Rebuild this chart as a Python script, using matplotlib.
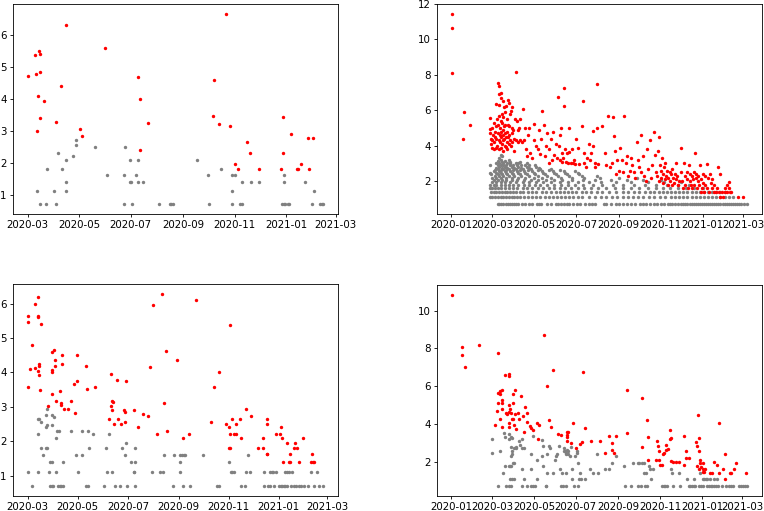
import numpy as np
import matplotlib
matplotlib.use("Agg")
import matplotlib.pyplot as plt
import matplotlib.dates as mdates

# ---- top left panel (dates, log values) ----
tl_red = [("2020-03-01", 4.72), ("2020-03-09", 5.38), ("2020-03-11", 4.78), ("2020-03-14", 5.52),
          ("2020-03-16", 5.41), ("2020-03-15", 4.86), ("2020-03-13", 4.09), ("2020-03-12", 3.00),
          ("2020-03-16", 3.40), ("2020-03-20", 3.94), ("2020-04-03", 3.29), ("2020-04-09", 4.40),
          ("2020-04-15", 6.33), ("2020-05-02", 3.05), ("2020-05-04", 2.84), ("2020-06-01", 5.59),
          ("2020-07-10", 4.69), ("2020-07-12", 4.01), ("2020-07-12", 2.40), ("2020-07-21", 3.26),
          ("2020-10-06", 3.47), ("2020-10-08", 4.60), ("2020-10-14", 3.22), ("2020-10-22", 6.68),
          ("2020-10-26", 3.15), ("2020-11-02", 1.95), ("2020-11-05", 1.79), ("2020-11-16", 2.64),
          ("2020-11-19", 2.31), ("2020-11-30", 1.79), ("2020-12-26", 1.79), ("2020-12-28", 3.44),
          ("2020-12-28", 2.31), ("2021-01-07", 2.90), ("2021-01-14", 1.79), ("2021-01-15", 1.79),
          ("2021-01-19", 1.95), ("2021-01-27", 2.79), ("2021-01-28", 1.79), ("2021-02-02", 2.79)]

tl_gray = [("2020-03-12", 1.10), ("2020-03-15", 0.69), ("2020-03-23", 0.69), ("2020-03-24", 1.79),
           ("2020-04-01", 1.10), ("2020-04-03", 0.69), ("2020-04-06", 2.30), ("2020-04-11", 1.79),
           ("2020-04-15", 2.08), ("2020-04-15", 1.39), ("2020-04-15", 1.10), ("2020-04-23", 2.20),
           ("2020-04-27", 2.56), ("2020-04-27", 2.71), ("2020-05-20", 2.48), ("2020-06-03", 1.61),
           ("2020-06-23", 1.61), ("2020-06-23", 0.69), ("2020-06-24", 2.48), ("2020-06-30", 2.08),
           ("2020-06-30", 1.39), ("2020-07-01", 1.39), ("2020-07-02", 0.69), ("2020-07-07", 1.61),
           ("2020-07-09", 2.08), ("2020-07-10", 1.39), ("2020-07-15", 1.39), ("2020-08-04", 0.69),
           ("2020-08-17", 0.69), ("2020-08-18", 0.69), ("2020-08-20", 0.69), ("2020-09-18", 2.08),
           ("2020-09-30", 1.61), ("2020-10-02", 0.69), ("2020-10-16", 1.79), ("2020-10-29", 1.61),
           ("2020-11-01", 1.61), ("2020-10-29", 1.10), ("2020-10-29", 0.69), ("2020-11-08", 0.69),
           ("2020-11-10", 0.69), ("2020-11-10", 1.39), ("2020-11-20", 1.39), ("2020-11-30", 1.39),
           ("2020-12-27", 0.69), ("2020-12-29", 0.69), ("2020-12-31", 0.69), ("2020-12-29", 1.39),
           ("2020-12-29", 1.61), ("2021-01-03", 0.69), ("2021-01-05", 0.69), ("2021-01-23", 1.39),
           ("2021-02-01", 0.69), ("2021-02-03", 1.10), ("2021-02-10", 0.69), ("2021-02-12", 0.69),
           ("2021-02-14", 0.69)]

# ---- bottom left panel ----
bl_red = [("2020-03-01", 5.63), ("2020-03-01", 5.46), ("2020-03-01", 3.57), ("2020-03-04", 4.10),
          ("2020-03-06", 4.80), ("2020-03-10", 4.13), ("2020-03-10", 5.99), ("2020-03-13", 6.20),
          ("2020-03-14", 5.63), ("2020-03-14", 5.61), ("2020-03-13", 4.04), ("2020-03-15", 4.24),
          ("2020-03-15", 4.19), ("2020-03-15", 3.92), ("2020-03-16", 3.50), ("2020-03-17", 5.40),
          ("2020-03-26", 3.01), ("2020-03-30", 3.37), ("2020-03-30", 4.58), ("2020-04-02", 4.66),
          ("2020-03-30", 4.07), ("2020-03-31", 4.02), ("2020-04-03", 4.35), ("2020-04-03", 4.19),
          ("2020-04-05", 3.18), ("2020-04-09", 3.45), ("2020-04-10", 3.11), ("2020-04-11", 3.06),
          ("2020-04-12", 4.50), ("2020-04-12", 4.25), ("2020-04-14", 2.95), ("2020-04-19", 2.95),
          ("2020-04-23", 3.18), ("2020-04-26", 3.65), ("2020-04-28", 2.83), ("2020-04-30", 3.75),
          ("2020-04-30", 4.52), ("2020-05-11", 4.19), ("2020-05-12", 3.53), ("2020-05-22", 3.57),
          ("2020-06-08", 2.64), ("2020-06-10", 3.96), ("2020-06-11", 3.01), ("2020-06-12", 2.90),
          ("2020-06-12", 3.18), ("2020-06-13", 3.14), ("2020-06-14", 2.50), ("2020-06-18", 3.79),
          ("2020-06-19", 2.64), ("2020-06-23", 2.50), ("2020-06-26", 2.90), ("2020-06-28", 2.57),
          ("2020-06-28", 2.84), ("2020-06-29", 3.75), ("2020-07-09", 2.90), ("2020-07-13", 2.41),
          ("2020-07-20", 2.78), ("2020-07-26", 2.72), ("2020-07-28", 4.17), ("2020-08-01", 5.96),
          ("2020-08-05", 2.21), ("2020-08-11", 6.28), ("2020-08-14", 3.10), ("2020-08-17", 4.63),
          ("2020-08-18", 2.31), ("2020-08-30", 4.35), ("2020-09-06", 2.09), ("2020-09-14", 2.21),
          ("2020-09-22", 6.10), ("2020-10-10", 2.57), ("2020-10-14", 3.58), ("2020-10-20", 4.02),
          ("2020-10-29", 2.50), ("2020-11-01", 2.41), ("2020-11-03", 5.39), ("2020-11-01", 1.81),
          ("2020-11-03", 1.81), ("2020-11-02", 2.21), ("2020-11-05", 2.64), ("2020-11-07", 2.21),
          ("2020-11-10", 2.21), ("2020-11-10", 2.50), ("2020-11-14", 2.64), ("2020-11-16", 2.09),
          ("2020-11-22", 2.95), ("2020-11-28", 2.72), ("2020-12-06", 1.81), ("2020-12-13", 2.09),
          ("2020-12-13", 1.81), ("2020-12-17", 2.50), ("2020-12-18", 2.64), ("2020-12-17", 1.62),
          ("2020-12-18", 1.62), ("2020-12-29", 2.21), ("2021-01-02", 2.21), ("2021-01-04", 2.41),
          ("2021-01-05", 2.09), ("2021-01-06", 1.41), ("2021-01-11", 1.96), ("2021-01-13", 1.41),
          ("2021-01-14", 1.41), ("2021-01-14", 1.62), ("2021-01-19", 1.81), ("2021-01-21", 1.96),
          ("2021-01-23", 1.81), ("2021-01-25", 1.41), ("2021-01-30", 2.09), ("2021-02-10", 1.62),
          ("2021-02-09", 1.41), ("2021-02-11", 1.41), ("2021-02-13", 1.41)]

bl_gray = [("2020-03-01", 1.10), ("2020-03-06", 0.69), ("2020-03-13", 2.64), ("2020-03-15", 2.64),
           ("2020-03-14", 2.20), ("2020-03-14", 1.10), ("2020-03-17", 2.56), ("2020-03-17", 1.79),
           ("2020-03-19", 1.61), ("2020-03-23", 2.77), ("2020-03-24", 2.94), ("2020-03-23", 2.40),
           ("2020-03-23", 1.79), ("2020-03-25", 1.79), ("2020-03-25", 2.48), ("2020-03-27", 1.10),
           ("2020-03-28", 0.69), ("2020-03-30", 0.69), ("2020-04-01", 0.69), ("2020-03-28", 1.39),
           ("2020-03-31", 1.39), ("2020-03-31", 2.48), ("2020-03-31", 2.77), ("2020-04-02", 2.71),
           ("2020-04-04", 1.10), ("2020-04-04", 2.08), ("2020-04-06", 2.30), ("2020-04-08", 2.30),
           ("2020-04-07", 0.69), ("2020-04-09", 0.69), ("2020-04-11", 0.69), ("2020-04-13", 0.69),
           ("2020-04-13", 1.39), ("2020-04-23", 2.30), ("2020-04-29", 1.61), ("2020-05-01", 1.10),
           ("2020-05-06", 2.30), ("2020-05-06", 1.61), ("2020-05-11", 0.69), ("2020-05-13", 0.69),
           ("2020-05-13", 2.30), ("2020-05-15", 1.79), ("2020-05-20", 2.20), ("2020-06-02", 0.69),
           ("2020-06-04", 1.79), ("2020-06-05", 1.10), ("2020-06-08", 2.20), ("2020-06-12", 1.10),
           ("2020-06-15", 0.69), ("2020-06-21", 0.69), ("2020-06-24", 1.79), ("2020-06-28", 1.61),
           ("2020-06-29", 1.95), ("2020-06-30", 0.69), ("2020-07-05", 1.39), ("2020-07-10", 1.39),
           ("2020-07-08", 1.10), ("2020-07-09", 1.10), ("2020-07-10", 0.69), ("2020-07-10", 1.79),
           ("2020-07-30", 1.10), ("2020-08-09", 1.10), ("2020-08-13", 1.10), ("2020-08-14", 1.61),
           ("2020-08-25", 0.69), ("2020-08-26", 1.61), ("2020-09-02", 1.10), ("2020-09-03", 1.39),
           ("2020-09-03", 1.61), ("2020-09-05", 1.61), ("2020-09-07", 1.61), ("2020-09-09", 1.61),
           ("2020-09-06", 0.69), ("2020-09-15", 0.69), ("2020-10-01", 1.61), ("2020-10-18", 0.69),
           ("2020-10-20", 0.69), ("2020-11-01", 1.39), ("2020-11-04", 1.10), ("2020-11-05", 1.10),
           ("2020-11-07", 1.10), ("2020-11-16", 0.69), ("2020-11-21", 0.69), ("2020-11-22", 1.10),
           ("2020-11-27", 1.10), ("2020-11-24", 1.61), ("2020-12-14", 1.10), ("2020-12-14", 0.69),
           ("2020-12-19", 0.69), ("2020-12-21", 0.69), ("2020-12-26", 0.69), ("2020-12-21", 1.10),
           ("2020-12-23", 1.10), ("2020-12-25", 1.10), ("2020-12-28", 1.10), ("2021-01-01", 0.69),
           ("2021-01-03", 0.69), ("2021-01-05", 0.69), ("2021-01-07", 0.69), ("2021-01-09", 0.69),
           ("2021-01-11", 0.69), ("2021-01-08", 1.10), ("2021-01-11", 1.10), ("2021-01-13", 1.10),
           ("2021-01-17", 1.10), ("2021-01-16", 0.69), ("2021-01-19", 0.69), ("2021-01-22", 0.69),
           ("2021-01-25", 0.69), ("2021-01-28", 0.69), ("2021-01-31", 0.69), ("2021-02-06", 0.69),
           ("2021-02-09", 1.10), ("2021-02-13", 0.69), ("2021-02-17", 1.10), ("2021-02-19", 0.69),
           ("2021-02-24", 0.69)]

# ---- right panels: days counted from 2020-01-01 ----
start = np.datetime64("2020-01-01")

tr_red = [(1, 11.45), (1, 10.65), (1, 8.1), (17, 4.4), (19, 5.9), (27, 5.2),
          (56, 4.96), (56, 4.7), (57, 5.56), (58, 4.4), (58, 4.1), (59, 5.0), (60, 4.3), (60, 3.9),
          (61, 4.6), (62, 5.3), (62, 4.2), (63, 3.8), (64, 4.8), (64, 4.5), (65, 5.1), (65, 6.35),
          (66, 3.9), (66, 4.4), (67, 5.5), (67, 4.0), (68, 7.55), (68, 4.7), (68, 5.2), (69, 7.35),
          (69, 6.3), (69, 4.3), (70, 6.9), (70, 5.7), (70, 3.8), (71, 5.0), (71, 4.6), (71, 4.2),
          (72, 6.95), (72, 5.4), (72, 3.9), (73, 6.7), (73, 4.8), (73, 4.5), (74, 5.8), (74, 5.3),
          (74, 4.1), (75, 6.55), (75, 4.9), (75, 4.3), (76, 5.6), (76, 4.6), (76, 3.7), (77, 6.2),
          (77, 5.1), (77, 4.4), (78, 5.9), (78, 4.0), (79, 5.2), (79, 4.7), (80, 6.25), (80, 4.5),
          (80, 3.95), (81, 5.5), (81, 4.2), (82, 4.8), (82, 3.8), (83, 6.6), (83, 5.15), (83, 4.5),
          (84, 6.4), (84, 4.1), (85, 5.1), (85, 4.6), (86, 5.8), (86, 4.3), (87, 5.95), (87, 4.0),
          (88, 5.0), (88, 4.7), (89, 6.2), (89, 4.2), (90, 4.9), (91, 3.7), (92, 4.4), (93, 5.5),
          (94, 8.15), (95, 4.3), (96, 5.4), (97, 4.9), (98, 4.2), (99, 5.0), (100, 4.3), (101, 5.5),
          (103, 4.2), (105, 6.05), (106, 4.3), (107, 5.0),
          (109, 3.8), (110, 3.4), (112, 4.6), (113, 5.0), (115, 3.6), (118, 3.3), (120, 4.3),
          (121, 5.25), (124, 4.0), (126, 3.8), (128, 4.9), (130, 3.55), (131, 4.4), (133, 5.95),
          (135, 5.2), (136, 3.4), (138, 4.0), (140, 4.7), (142, 3.0), (143, 3.8), (145, 4.4),
          (147, 3.2), (148, 4.75), (150, 3.5), (152, 4.1), (154, 3.3), (156, 6.75), (157, 4.0),
          (158, 3.2), (159, 4.6), (160, 5.0), (161, 3.6), (162, 3.1), (163, 3.3), (164, 7.25),
          (165, 6.25), (166, 3.8), (167, 3.1), (168, 3.6), (170, 3.0), (171, 5.0), (172, 3.65),
          (174, 3.0), (176, 3.8), (178, 3.0), (179, 3.2), (181, 2.95), (182, 4.4), (184, 3.9),
          (186, 2.95), (190, 5.1), (192, 6.5), (193, 3.0), (194, 3.6), (196, 2.8), (198, 3.3),
          (200, 4.1), (202, 3.2), (204, 3.6), (206, 4.0), (207, 4.85), (209, 2.8), (210, 3.0),
          (212, 7.5), (213, 5.0), (214, 2.95), (220, 5.1), (224, 3.6), (225, 2.9), (228, 5.7),
          (231, 2.8), (234, 3.0), (236, 5.65), (237, 4.55), (238, 3.7), (240, 2.4), (241, 3.2),
          (244, 2.6), (246, 3.9), (249, 3.2), (250, 2.5), (252, 5.7), (254, 3.0), (256, 3.4),
          (258, 2.3), (260, 2.6), (262, 3.3), (264, 2.9), (266, 2.5), (268, 2.2), (270, 4.2),
          (272, 3.2), (274, 2.8), (276, 4.6), (277, 2.5), (279, 3.4), (281, 2.3), (283, 2.0),
          (285, 3.8), (287, 2.7), (289, 4.35), (291, 2.2), (293, 2.9), (295, 4.8), (297, 3.5),
          (298, 2.5), (300, 2.3), (301, 3.7), (302, 2.0), (303, 4.5), (304, 2.9), (305, 2.6),
          (306, 2.2), (307, 3.3), (308, 2.4), (309, 1.9), (310, 2.8), (311, 2.1), (312, 3.0),
          (313, 2.3), (314, 2.6), (315, 1.8), (316, 2.2), (318, 2.5), (319, 2.0), (320, 2.4),
          (321, 1.8), (322, 2.7), (323, 2.2), (325, 1.9), (326, 2.4), (327, 2.1), (328, 3.0),
          (329, 2.3), (330, 1.8), (332, 2.0), (334, 3.9), (335, 2.5), (336, 2.0), (337, 1.6),
          (339, 3.05), (340, 2.3), (341, 1.8), (343, 2.5), (344, 2.1), (345, 1.6), (346, 2.9),
          (347, 2.4), (348, 2.0), (349, 1.8), (350, 2.3), (351, 1.6), (352, 2.1), (353, 2.5),
          (354, 1.8), (355, 3.6), (356, 2.2), (357, 2.4), (358, 1.6), (359, 2.0), (360, 2.3),
          (361, 1.8), (362, 2.9), (363, 1.4), (364, 2.1), (365, 1.6), (366, 2.4), (367, 1.9),
          (368, 1.4), (369, 2.3), (370, 1.8), (372, 2.95), (373, 1.6), (374, 2.2), (375, 1.4),
          (377, 2.4), (378, 1.9), (379, 1.6), (380, 2.1), (382, 1.4), (383, 1.8), (385, 1.4),
          (387, 1.6), (388, 2.8), (390, 1.4), (391, 1.1), (392, 2.4), (394, 1.4), (396, 1.1),
          (398, 1.6), (399, 1.4), (401, 1.8), (402, 1.4), (404, 1.6), (405, 1.95), (406, 1.4),
          (408, 1.4), (418, 1.1), (425, 1.1)]

tr_gray_levels = [0.69, 1.10, 1.39, 1.61, 1.79, 1.95, 2.08, 2.20, 2.30, 2.40, 2.48, 2.56,
                  2.64, 2.71, 2.77, 2.83, 2.89, 2.94, 3.00, 3.04, 3.09, 3.14, 3.22, 3.30,
                  3.40, 3.50]
tr_gray_days = [
    [68, 70, 73, 76, 80, 83, 86, 88, 92, 95, 98, 103, 108, 114, 118, 125, 128, 131, 140, 146,
     152, 155, 160, 165, 168, 172, 178, 183, 188, 195, 200, 205, 210, 222, 226, 232, 240, 245,
     250, 256, 262, 268, 275, 280, 284, 290, 295, 300, 305, 310, 315, 318, 322, 326, 330, 334,
     338, 341, 344, 347, 350, 353, 356, 359, 362, 365, 368, 371, 374, 377, 380, 383, 386, 389,
     392, 395, 398, 401, 404, 407, 410, 413, 416, 419, 422, 426, 431],
    [56, 60, 64, 68, 72, 76, 80, 84, 88, 92, 96, 100, 106, 112, 118, 124, 130, 136, 142, 148,
     154, 160, 166, 172, 178, 184, 190, 200, 210, 218, 226, 234, 242, 250, 258, 265, 272, 280,
     288, 296, 304, 312, 320, 326, 332, 338, 344, 350, 356, 362, 368, 374, 380, 386, 392, 398,
     404, 410],
    [58, 62, 66, 70, 74, 78, 82, 86, 90, 95, 100, 105, 112, 118, 124, 132, 138, 146, 152, 158,
     164, 170, 176, 182, 190, 196, 204, 212, 220, 230, 240, 250, 258, 266, 274, 282, 290, 296,
     302, 308, 314, 320, 326, 332, 338, 344, 350, 356, 362, 368, 374, 380, 386, 392, 398],
    [56, 60, 64, 68, 72, 78, 84, 90, 96, 104, 110, 118, 126, 134, 142, 150, 158, 166, 174, 184,
     194, 204, 214, 226, 238, 250, 262, 274, 286, 298, 308, 318, 330, 342, 354, 366],
    [56, 62, 66, 72, 78, 84, 90, 98, 106, 114, 122, 130, 140, 150, 160, 170, 180, 192, 206, 220,
     236, 250, 266, 282, 298, 314, 330, 346],
    [60, 66, 72, 78, 86, 94, 104, 114, 124, 134, 146, 158, 170, 184, 200, 218, 240, 262, 286,
     310, 334],
    [62, 68, 74, 80, 88, 96, 106, 116, 126, 138, 150, 162, 176, 192, 210, 232, 256, 280, 306],
    [60, 66, 72, 80, 88, 98, 108, 120, 132, 146, 160, 176, 194, 216, 244, 270],
    [64, 70, 76, 84, 92, 102, 114, 126, 140, 156, 172, 190, 212],
    [58, 68, 74, 82, 90, 100, 110, 122, 136, 152, 168, 186],
    [56, 66, 72, 80, 88, 98, 108, 120, 134, 150, 166, 184],
    [62, 70, 78, 86, 96, 106, 118, 132, 148, 164, 180],
    [64, 72, 80, 90, 100, 112, 126, 142, 158],
    [68, 76, 84, 94, 104, 116, 130, 146],
    [66, 74, 82, 92, 102, 114, 128],
    [70, 78, 88, 98, 110, 124],
    [56, 68, 76, 86, 96, 108, 122],
    [72, 80, 90, 102, 114],
    [66, 76, 86, 98, 110],
    [70, 82, 94],
    [74, 86, 100],
    [68, 78],
    [72, 84],
    [70],
    [74],
    [72],
]

br_red = [(1, 10.85), (16, 8.07), (16, 7.66), (21, 7.03), (40, 8.16), (68, 7.77), (64, 3.95),
          (67, 4.69), (68, 5.11), (68, 5.64), (71, 5.56), (72, 5.72), (74, 5.77), (74, 5.29),
          (74, 5.10), (74, 4.81), (74, 3.82), (72, 4.27), (79, 6.60), (80, 4.57), (82, 4.53),
          (84, 4.65), (85, 6.64), (85, 6.55), (84, 5.00), (84, 3.82), (85, 4.04), (86, 4.78),
          (87, 4.57), (89, 4.27), (90, 4.27), (90, 5.57), (91, 5.10), (92, 3.95), (93, 5.82),
          (93, 4.53), (94, 3.73), (97, 4.60), (99, 4.27), (102, 5.47), (105, 4.44), (106, 3.56),
          (108, 4.88), (110, 4.57), (111, 4.12), (115, 3.88), (117, 3.77), (119, 3.70),
          (126, 4.05), (128, 3.95), (127, 3.20), (135, 8.71), (140, 6.00), (143, 4.19),
          (146, 3.82), (148, 6.83), (156, 3.47), (160, 3.43), (169, 3.56), (169, 3.43),
          (169, 3.33), (169, 3.08), (170, 3.56), (178, 4.05), (175, 2.99), (182, 2.71),
          (188, 2.94), (191, 3.04), (193, 6.76), (196, 3.79), (204, 3.11), (217, 3.08),
          (225, 2.48), (231, 3.35), (234, 2.97), (234, 2.62), (237, 2.46), (241, 3.38),
          (256, 5.77), (257, 3.49), (278, 5.36), (279, 2.76), (286, 4.21), (287, 3.31),
          (287, 2.09), (300, 3.08), (302, 2.85), (303, 2.58), (299, 2.09), (303, 2.09),
          (305, 1.81), (307, 1.81), (309, 2.41), (311, 2.48), (313, 2.88), (314, 2.60),
          (317, 2.65), (320, 3.68), (321, 3.24), (320, 3.20), (321, 2.05), (324, 2.00),
          (328, 2.00), (333, 1.98), (340, 3.36), (342, 2.58), (340, 1.82), (343, 2.21),
          (347, 2.21), (357, 3.06), (358, 2.85), (360, 4.48), (361, 3.26), (359, 1.79),
          (361, 1.61), (362, 2.58), (363, 2.09), (363, 1.93), (365, 1.70), (367, 1.43),
          (369, 1.43), (368, 1.95), (368, 1.61), (371, 1.61), (378, 1.40), (380, 1.40),
          (384, 2.00), (388, 1.82), (391, 4.05), (391, 1.42), (396, 1.61), (399, 2.41),
          (400, 1.08), (407, 1.38), (409, 1.38), (413, 1.61), (416, 1.95), (430, 1.40)]

br_gray = [(59, 3.22), (59, 2.48), (69, 0.69), (80, 0.69), (84, 0.69), (88, 0.69), (75, 1.39),
           (71, 2.56), (78, 3.33), (77, 3.50), (79, 1.79), (84, 1.79), (86, 1.79), (88, 1.79),
           (85, 3.47), (85, 3.22), (87, 3.33), (89, 3.26), (87, 2.77), (89, 2.56), (88, 2.30),
           (89, 2.40), (86, 1.10), (89, 1.10), (92, 1.10), (90, 1.95), (92, 1.95), (92, 2.71),
           (94, 2.71), (95, 2.77), (99, 3.09), (103, 3.22), (101, 2.89), (104, 1.61), (104, 0.69),
           (110, 0.69), (116, 0.69), (120, 0.69), (123, 0.69), (104, 2.71), (106, 2.71),
           (107, 1.10), (117, 2.40), (119, 3.37), (116, 1.61), (126, 2.08), (126, 1.10),
           (132, 2.30), (133, 3.14), (134, 2.83), (134, 1.79), (138, 0.69), (139, 0.69),
           (140, 2.40), (140, 1.39), (143, 2.83), (145, 2.71), (148, 1.39), (151, 2.08),
           (153, 2.30), (154, 2.40), (158, 2.83), (159, 1.61), (160, 0.69), (163, 0.69),
           (167, 0.69), (162, 1.39), (167, 1.39), (164, 2.56), (165, 2.71), (166, 2.56),
           (167, 2.48), (168, 2.40), (169, 2.64), (170, 2.40), (171, 2.56), (173, 2.30),
           (175, 2.77), (176, 1.61), (177, 1.10), (179, 0.69), (185, 0.69), (181, 2.30),
           (183, 2.48), (184, 2.56), (185, 1.95), (187, 1.10), (190, 1.10), (188, 1.39),
           (196, 1.10), (203, 1.61), (207, 1.39), (213, 2.40), (215, 1.39), (225, 1.61),
           (231, 1.61), (234, 1.95), (240, 2.30), (252, 1.79), (253, 0.69), (262, 0.69),
           (272, 0.69), (277, 0.69), (283, 0.69), (286, 0.69), (266, 1.95), (272, 1.95),
           (274, 1.95), (278, 1.95), (281, 1.95), (282, 1.39), (284, 1.39), (290, 1.61),
           (288, 1.79), (291, 1.10), (294, 1.61), (307, 0.69), (310, 0.69), (312, 0.69),
           (315, 0.69), (323, 0.69), (334, 0.69), (321, 1.61), (322, 1.39), (333, 1.39),
           (344, 1.10), (354, 1.10), (347, 0.69), (349, 0.69), (351, 0.69), (354, 0.69),
           (356, 0.69), (362, 0.69), (365, 0.69), (368, 0.69), (363, 1.39), (367, 1.10),
           (369, 1.10), (372, 1.10), (374, 1.10), (377, 1.10), (374, 0.69), (376, 0.69),
           (379, 0.69), (381, 0.69), (383, 0.69), (386, 0.69), (384, 1.10), (388, 1.10),
           (389, 0.69), (395, 0.69), (401, 0.69), (405, 0.69), (408, 0.69), (411, 0.69),
           (420, 0.69), (423, 0.69), (426, 0.69), (429, 0.69), (432, 0.69)]


def split_dates(pairs):
    d = np.array([np.datetime64(p[0]) for p in pairs])
    v = np.array([p[1] for p in pairs])
    return d, v


def split_days(pairs):
    d = start + np.array([p[0] for p in pairs]).astype("timedelta64[D]")
    v = np.array([p[1] for p in pairs])
    return d, v


tr_gray = [(day, lev) for lev, days in zip(tr_gray_levels, tr_gray_days) for day in days]

panels = [
    (split_dates(tl_red), split_dates(tl_gray), (0.39, 6.98), [0.0170, 0.5812, 0.4254, 0.4110]),
    (split_days(tr_red), split_days(tr_gray), (0.15, 12.0), [0.5720, 0.5812, 0.4254, 0.4110]),
    (split_dates(bl_red), split_dates(bl_gray), (0.41, 6.57), [0.0170, 0.0294, 0.4254, 0.4149]),
    (split_days(br_red), split_days(br_gray), (0.18, 11.36), [0.5720, 0.0294, 0.4254, 0.4130]),
]

fig = plt.figure(figsize=(7.64, 5.11), dpi=100)

for (rd, rv), (gd, gv), ylim, box in panels:
    ax = fig.add_axes(box)
    ax.scatter(gd, gv, s=6, color="gray", linewidths=0)
    ax.scatter(rd, rv, s=6, color="red", linewidths=0)
    ax.set_ylim(*ylim)
    ax.xaxis.set_major_locator(mdates.MonthLocator(bymonth=[1, 3, 5, 7, 9, 11]))
    ax.xaxis.set_major_formatter(mdates.DateFormatter("%Y-%m"))
    ax.tick_params(labelsize=7.4, length=2.4, width=0.6, pad=2)
    for sp in ax.spines.values():
        sp.set_linewidth(0.6)

fig.savefig("out.png", dpi=100)
